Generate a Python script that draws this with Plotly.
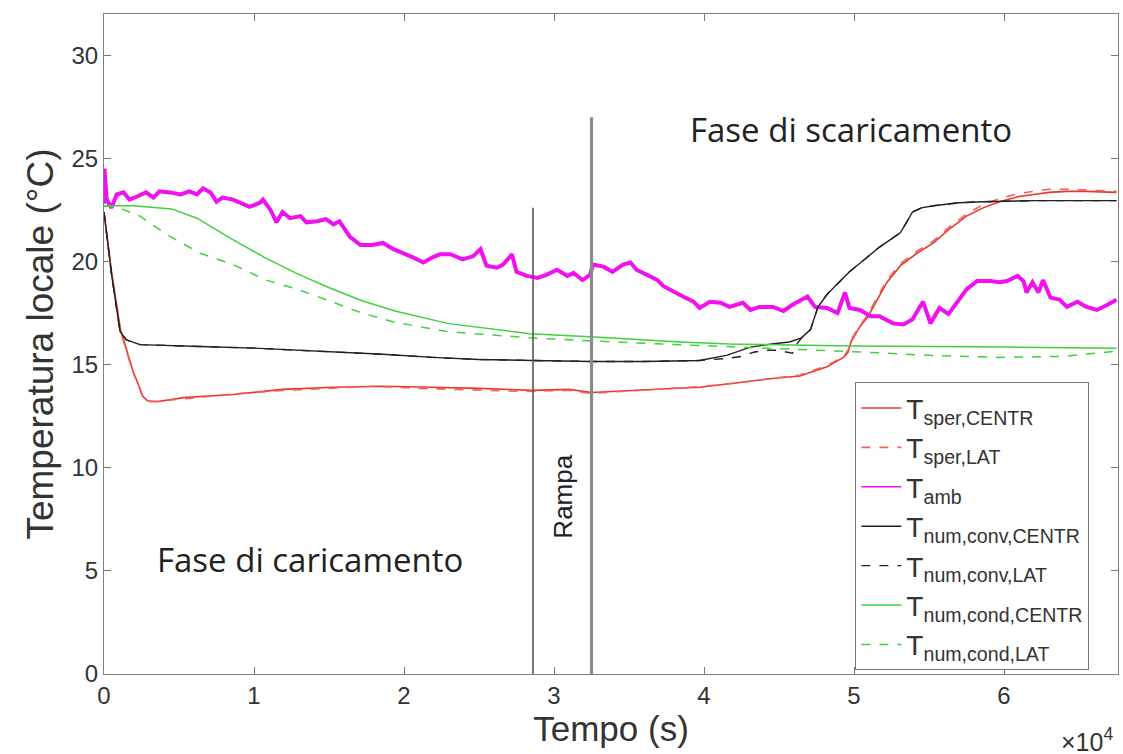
import plotly.graph_objects as go

SC = 1e4  # time axis values below are in units of 1e4 s

# ---------------- data ----------------
t_sper_c = [0, 0.05, 0.11, 0.19, 0.26, 0.29, 0.35, 0.53, 0.86, 1.19, 1.53, 1.86, 2.19, 2.5, 2.86, 3.1, 3.25,
            3.4, 3.7, 3.97, 4.2, 4.42, 4.64, 4.82, 4.93, 4.96, 4.98, 5.04, 5.09, 5.15, 5.22, 5.31, 5.42,
            5.53, 5.64, 5.75, 5.86, 5.97, 6.1, 6.2, 6.3, 6.42, 6.55, 6.75]
T_sper_c = [22.4, 19.5, 16.7, 14.75, 13.45, 13.25, 13.2, 13.4, 13.55, 13.8, 13.9, 13.95, 13.9, 13.85, 13.75,
            13.8, 13.65, 13.7, 13.8, 13.9, 14.1, 14.3, 14.45, 14.9, 15.35, 15.6, 16.1, 16.85, 17.3, 18.1,
            19.0, 19.8, 20.4, 20.9, 21.6, 22.2, 22.6, 22.9, 23.15, 23.25, 23.35, 23.4, 23.4, 23.35]

t_sper_l = [0, 0.05, 0.11, 0.19, 0.26, 0.3, 0.4, 0.6, 0.9, 1.2, 1.5, 1.8, 2.1, 2.4, 2.8, 3.1, 3.25,
            3.45, 3.75, 4.0, 4.2, 4.42, 4.64, 4.82, 4.93, 4.96, 4.98, 5.04, 5.09, 5.15, 5.22, 5.31, 5.42,
            5.53, 5.64, 5.75, 5.86, 5.97, 6.1, 6.2, 6.3, 6.42, 6.55, 6.75]
T_sper_l = [22.4, 19.4, 16.6, 14.7, 13.4, 13.2, 13.25, 13.4, 13.6, 13.75, 13.85, 13.95, 13.85, 13.8, 13.7,
            13.75, 13.6, 13.7, 13.85, 13.95, 14.1, 14.3, 14.5, 14.95, 15.4, 15.7, 16.2, 16.9, 17.4, 18.2,
            19.1, 19.9, 20.5, 21.0, 21.7, 22.3, 22.75, 23.05, 23.3, 23.4, 23.5, 23.5, 23.45, 23.4]

t_amb = [0, 0.003, 0.01, 0.018, 0.05, 0.085, 0.13, 0.17, 0.22, 0.28, 0.33, 0.37, 0.44, 0.51, 0.57, 0.62,
         0.66, 0.71, 0.75, 0.79, 0.86, 0.91, 0.97, 1.04, 1.06, 1.11, 1.15, 1.19, 1.24, 1.31, 1.35, 1.42,
         1.48, 1.53, 1.57, 1.64, 1.71, 1.79, 1.86, 1.93, 2.0, 2.06, 2.13, 2.19, 2.24, 2.31, 2.39, 2.46,
         2.51, 2.55, 2.62, 2.66, 2.72, 2.75, 2.82, 2.89, 2.95, 3.02, 3.09, 3.13, 3.19, 3.24, 3.26, 3.33,
         3.39, 3.46, 3.51, 3.55, 3.62, 3.69, 3.73, 3.79, 3.86, 3.93, 3.97, 4.04, 4.11, 4.17, 4.26, 4.31,
         4.37, 4.46, 4.53, 4.59, 4.69, 4.74, 4.82, 4.89, 4.94, 4.97, 5.04, 5.11, 5.17, 5.26, 5.33, 5.39,
         5.46, 5.51, 5.57, 5.63, 5.69, 5.75, 5.82, 5.91, 5.97, 6.02, 6.09, 6.13, 6.15, 6.19, 6.23, 6.26,
         6.31, 6.37, 6.42, 6.49, 6.55, 6.62, 6.69, 6.75]
T_amb = [22.8, 24.5, 23.8, 23.0, 22.6, 23.25, 23.35, 23.0, 23.15, 23.35, 23.1, 23.4, 23.35, 23.25, 23.4,
         23.25, 23.55, 23.35, 22.9, 23.1, 23.0, 22.85, 22.65, 22.85, 23.0, 22.5, 21.9, 22.4, 22.1, 22.2,
         21.9, 21.95, 22.05, 21.8, 21.95, 21.2, 20.8, 20.8, 20.9, 20.6, 20.4, 20.2, 19.95, 20.2, 20.35,
         20.35, 20.1, 20.25, 20.6, 19.8, 19.7, 19.85, 20.35, 19.5, 19.3, 19.2, 19.35, 19.6, 19.3, 19.45,
         19.1, 19.35, 19.85, 19.75, 19.5, 19.85, 19.95, 19.6, 19.35, 19.1, 18.8, 18.55, 18.3, 18.05, 17.75,
         18.05, 18.0, 17.8, 18.0, 17.65, 17.8, 17.8, 17.6, 17.9, 18.3, 17.8, 17.75, 17.5, 18.5, 17.75,
         17.65, 17.35, 17.35, 17.0, 16.95, 17.2, 18.05, 17.0, 17.75, 17.45, 18.05, 18.65, 19.05, 19.05,
         19.0, 19.05, 19.3, 19.05, 18.5, 19.0, 18.5, 19.1, 18.25, 18.15, 17.8, 18.05, 17.8, 17.65, 17.9,
         18.15]

t_conv_c = [0, 0.05, 0.107, 0.15, 0.24, 0.4, 0.64, 1.0, 1.31, 1.6, 1.86, 2.19, 2.5, 2.86, 3.25, 3.6, 3.97,
            4.15, 4.31, 4.45, 4.57, 4.65, 4.71, 4.76, 4.82, 4.9, 4.97, 5.07, 5.17, 5.25, 5.31, 5.35, 5.39,
            5.45, 5.53, 5.7, 5.86, 6.2, 6.75]
T_conv_c = [22.4, 19.4, 16.6, 16.2, 15.97, 15.92, 15.88, 15.8, 15.7, 15.6, 15.5, 15.35, 15.25, 15.2, 15.15,
            15.15, 15.2, 15.45, 15.85, 16.0, 16.1, 16.3, 16.7, 17.8, 18.4, 19.0, 19.5, 20.1, 20.7, 21.1,
            21.4, 21.9, 22.4, 22.6, 22.7, 22.85, 22.9, 22.95, 22.95]

t_conv_l = [0, 0.05, 0.107, 0.15, 0.24, 0.4, 0.64, 1.0, 1.31, 1.6, 1.86, 2.19, 2.5, 2.86, 3.25, 3.6, 3.97,
            4.15, 4.25, 4.33, 4.41, 4.49, 4.55, 4.59, 4.61, 4.63, 4.65, 4.71, 4.76, 4.82, 4.9, 4.97, 5.07,
            5.17, 5.25, 5.31, 5.35, 5.39, 5.45, 5.53, 5.7, 5.86, 6.2, 6.75]
T_conv_l = [22.4, 19.4, 16.6, 16.2, 15.97, 15.92, 15.88, 15.8, 15.7, 15.6, 15.5, 15.35, 15.25, 15.2, 15.15,
            15.15, 15.2, 15.3, 15.4, 15.6, 15.7, 15.7, 15.6, 15.55, 15.9, 16.1, 16.3, 16.7, 17.8, 18.4,
            19.0, 19.5, 20.1, 20.7, 21.1, 21.4, 21.9, 22.4, 22.6, 22.7, 22.85, 22.9, 22.95, 22.95]

t_cond_c = [0, 0.2, 0.45, 0.62, 0.85, 1.07, 1.29, 1.51, 1.72, 1.94, 2.29, 2.84, 3.24, 3.84, 4.17, 5.0, 6.0, 6.75]
T_cond_c = [22.7, 22.7, 22.55, 22.1, 21.1, 20.2, 19.4, 18.7, 18.1, 17.6, 17.0, 16.5, 16.35, 16.1, 16.0,
            15.9, 15.85, 15.8]

t_cond_l = [0, 0.1, 0.24, 0.42, 0.64, 0.86, 1.08, 1.27, 1.5, 1.72, 1.94, 2.29, 2.84, 3.39, 4.06, 4.6, 5.09,
            5.5, 5.97, 6.4, 6.75]
T_cond_l = [22.7, 22.6, 22.2, 21.3, 20.4, 19.85, 19.1, 18.7, 18.1, 17.5, 17.05, 16.6, 16.3, 16.1, 15.9,
            15.75, 15.6, 15.45, 15.35, 15.4, 15.65]

# phase separators: (time in 1e4 s, top temperature)
sep_t = [2.86, 3.25]
sep_top = [22.6, 27.0]

x_ticks = [0, 1, 2, 3, 4, 5, 6]
y_ticks = [0, 5, 10, 15, 20, 25, 30]

# ---------------- figure ----------------
RED = "#e8372c"
RED_L = "#f0625a"
MAG = "#f010f0"
BLK = "#222222"
GRN = "#3fd13f"


def sx(v):
    return [a * SC for a in v]


fig = go.Figure()
series = [
    (t_sper_c, T_sper_c, "T<sub>sper,CENTR</sub>", RED, "solid", 1.6),
    (t_sper_l, T_sper_l, "T<sub>sper,LAT</sub>", RED_L, "dash", 1.6),
    (t_amb, T_amb, "T<sub>amb</sub>", MAG, "solid", 4.0),
    (t_conv_c, T_conv_c, "T<sub>num,conv,CENTR</sub>", BLK, "solid", 1.4),
    (t_conv_l, T_conv_l, "T<sub>num,conv,LAT</sub>", BLK, "dash", 1.4),
    (t_cond_c, T_cond_c, "T<sub>num,cond,CENTR</sub>", GRN, "solid", 1.5),
    (t_cond_l, T_cond_l, "T<sub>num,cond,LAT</sub>", GRN, "dash", 1.5),
]
for i, (xs, ys, name, col, dash, w) in enumerate(series):
    fig.add_trace(go.Scatter(x=sx(xs), y=ys, mode="lines", name=name, legendgroup=name,
                             legendrank=i, showlegend=(w < 3),
                             line=dict(color=col, dash=dash, width=w)))
    if w >= 3:
        # thin legend sample for the thick measured ambient curve
        fig.add_trace(go.Scatter(x=[None], y=[None], mode="lines", name=name, legendgroup=name,
                                 legendrank=i, line=dict(color=col, dash=dash, width=1.5)))

sep_cols = ["#555555", "#8a8a8a"]
sep_w = [1.6, 3.2]
for xv, top, c, w in zip(sep_t, sep_top, sep_cols, sep_w):
    fig.add_shape(type="line", x0=xv * SC, x1=xv * SC, y0=0, y1=top, xref="x", yref="y",
                  line=dict(color=c, width=w), layer="above")

TXT_FONT = "'Open Sans', Lato, sans-serif"
fig.add_annotation(x=4.98 * SC, y=26.4, text="Fase di scaricamento", showarrow=False,
                   font=dict(family=TXT_FONT, size=33, color="#222"))
fig.add_annotation(x=1.37 * SC, y=5.55, text="Fase di caricamento", showarrow=False,
                   xanchor="center", font=dict(family=TXT_FONT, size=33, color="#222"))
fig.add_annotation(x=3.06 * SC, y=8.6, text="Rampa", textangle=-90, showarrow=False,
                   font=dict(family="Liberation Sans, Arial, sans-serif", size=26, color="#222"))
fig.add_annotation(xref="paper", yref="paper", x=0.997, y=-0.1, xanchor="right", yanchor="middle",
                   text="×10<sup>4</sup>", showarrow=False,
                   font=dict(family="Liberation Sans, Arial, sans-serif", size=25, color="#333"))

AX_FONT = "Liberation Sans, Arial, sans-serif"
fig.update_xaxes(range=[0, 6.76 * SC], tickvals=[v * SC for v in x_ticks],
                 ticktext=[str(v) for v in x_ticks],
                 ticks="inside", ticklen=7, tickcolor="#777", mirror="ticks",
                 showline=True, linecolor="#808080", linewidth=1.2, showgrid=False, zeroline=False,
                 tickfont=dict(family=AX_FONT, size=24, color="#333"),
                 title=dict(text="Tempo (s)", font=dict(family=AX_FONT, size=35, color="#333"), standoff=8))
fig.update_yaxes(range=[0, 32], tickvals=y_ticks, ticks="inside", ticklen=7, tickcolor="#777",
                 mirror="ticks", showline=True, linecolor="#808080", linewidth=1.2, showgrid=False,
                 zeroline=False,
                 tickfont=dict(family=AX_FONT, size=24, color="#333"),
                 title=dict(text="Temperatura locale (°C)", font=dict(family=AX_FONT, size=37, color="#333"),
                            standoff=6))

fig.update_layout(
    width=1123, height=754,
    margin=dict(l=104, r=5, t=14, b=80),
    paper_bgcolor="white", plot_bgcolor="white",
    showlegend=True,
    legend=dict(x=0.741, y=0.442, xanchor="left", yanchor="top",
                bgcolor="white", bordercolor="#777", borderwidth=1,
                font=dict(family=AX_FONT, size=28, color="#333"),
                tracegroupgap=0, itemwidth=40, traceorder="normal"),
)

fig.write_html("out.html")
